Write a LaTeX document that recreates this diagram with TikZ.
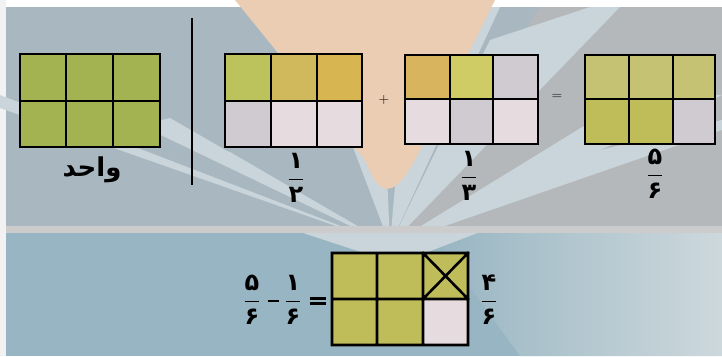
\documentclass[tikz,border=0pt]{standalone}
\usepackage{fontspec}
\newfontfamily\arabicfont[Script=Arabic]{DejaVu Sans}
\TeXXeTstate=1
\definecolor{bgtop}{HTML}{A9B8C0}
\definecolor{bgray}{HTML}{C9D5DA}
\definecolor{peach}{HTML}{EACDB2}
\definecolor{bgbot}{HTML}{97B5C2}
\definecolor{bgbotlight}{HTML}{CDD8DC}
\definecolor{rgray}{HTML}{B5B8BA}
\definecolor{oliveA}{HTML}{A3B352}
\definecolor{oliveB}{HTML}{BFBD5A}
\definecolor{oliveC}{HTML}{C5C273}
\definecolor{ygreen}{HTML}{BCC35C}
\definecolor{ochreA}{HTML}{D7B550}
\definecolor{ochreB}{HTML}{D9B45E}
\definecolor{yelC}{HTML}{CFCC66}
\definecolor{pinkw}{HTML}{E6DCE0}
\definecolor{greyw}{HTML}{CFCBD0}
\newcommand{\pd}{\arabicfont\bfseries}
\newcommand{\pfr}[2]{$\displaystyle\frac{\hbox{\pd #1}}{\hbox{\pd #2}}$}
\newcommand{\thickminus}{\rule{11pt}{2.6pt}}
\newcommand{\thickeq}{\vbox{\hrule width 16pt height 2.4pt\vskip 2.6pt\hrule width 16pt height 2.4pt}}
\tikzset{
  cellline/.style={line width=2.6pt, line cap=rect},
  lab/.style={inner sep=0pt, font=\fontsize{24}{28}\selectfont},
  word/.style={inner sep=0pt, font=\fontsize{26}{30}\selectfont},
  sym/.style={inner sep=0pt, font=\fontsize{14}{16}\selectfont}
}
\begin{document}
\begin{tikzpicture}[x=1pt,y=-1pt]
\useasboundingbox (0,0) rectangle (722,356);
% ---------- background ----------
\fill[bgtop] (0,0) rectangle (722,356);
\fill[rgray] (390,245) -- (540,7) -- (722,7) -- (722,230) -- cycle;
\fill[white] (0,0) rectangle (722,7);
\fill[white!90!gray] (0,0) rectangle (6,356);
% light rays from the bottom centre
\fill[bgray] (390,245) -- (0,95) -- (0,108) -- cycle;
\fill[bgray] (390,245) -- (140,125) -- (170,118) -- cycle;
\fill[bgray] (390,245) -- (190,145) -- (230,152) -- cycle;
\fill[bgray] (390,245) -- (300,7) -- (380,7) -- cycle;
\fill[bgray] (390,245) -- (410,7) -- (500,7) -- cycle;
\fill[bgray] (390,245) -- (490,40) -- (590,7) -- (620,7) -- cycle;
\fill[bgray] (390,245) -- (560,160) -- (722,120) -- (722,130) -- cycle;
\fill[bgray] (390,245) -- (610,110) -- (690,95) -- (722,95) -- cycle;
% peach fan
\fill[peach] (235,0) -- (495,0) -- (420,150) .. controls (395,200) and (380,200) .. (365,160) -- cycle;
% lower band
\fill[bgbot] (6,232) rectangle (722,356);
\shade[left color=bgbot, right color=bgbotlight] (430,232) -- (722,232) -- (722,356) -- (520,356) -- cycle;
\fill[bgray] (300,232) -- (480,232) -- (420,255) -- (370,255) -- cycle;
\fill[gray!40] (6,226) rectangle (722,233);
% separator
\draw[line width=2pt] (192,18) coordinate (sepA) -- (192,185) coordinate (sepB);
% ---------- grid 1 : one whole ----------
\fill[oliveA] (20,54) rectangle (160,147);
\draw[cellline] (20,54) rectangle (160,147) (66,54) -- (66,147) (113,54) -- (113,147) (20,101) -- (160,101);
\node[word] (w) at (92,170) {\pd\beginR واحد\endR};
% ---------- grid 2 : 1/2 ----------
\fill[ygreen] (225,54) rectangle (271,101);
\fill[ochreB!70!ygreen] (271,54) rectangle (317,101);
\fill[ochreA] (317,54) rectangle (362,101);
\fill[pinkw] (225,101) rectangle (362,147);
\fill[greyw] (225,101) rectangle (271,147);
\draw[cellline] (225,54) rectangle (362,147) (271,54) -- (271,147) (317,54) -- (317,147) (225,101) -- (362,101);
\node[lab] (h) at (296,178) {\pfr{۱}{۲}};
\node[sym] (plus) at (384,100) {+};
% ---------- grid 3 : 1/3 ----------
\fill[ochreB] (405,55) rectangle (450,99);
\fill[yelC] (450,55) rectangle (493,99);
\fill[greyw] (493,55) rectangle (538,99);
\fill[pinkw] (405,99) rectangle (538,144);
\fill[greyw] (450,99) rectangle (493,144);
\draw[cellline] (405,55) rectangle (538,144) (450,55) -- (450,144) (493,55) -- (493,144) (405,99) -- (538,99);
\node[lab] (t) at (469,176) {\pfr{۱}{۳}};
\node[sym] (eq) at (557,97) {=};
% ---------- grid 4 : 5/6 ----------
\fill[oliveC] (585,55) rectangle (715,99);
\fill[oliveB] (585,99) rectangle (673,144);
\fill[greyw] (673,99) rectangle (715,144);
\draw[cellline] (585,55) rectangle (715,144) (629,55) -- (629,144) (673,55) -- (673,144) (585,99) -- (715,99);
\node[lab] (f) at (655,174) {\pfr{۵}{۶}};
% ---------- bottom ----------
\fill[oliveB] (332,253) rectangle (468,345);
\fill[pinkw] (423,299) rectangle (468,345);
\draw[cellline] (332,253) rectangle (468,345) (377,253) -- (377,345) (423,253) -- (423,345) (332,299) -- (468,299)
  (423,253) -- (468,299) (468,253) -- (423,299);
\node[lab] (a) at (252,300) {\pfr{۵}{۶}};
\node[sym] (minus) at (273,301) {\thickminus};
\node[lab] (b) at (293,300) {\pfr{۱}{۶}};
\node[sym] (eq2) at (318,301) {\thickeq};
\node[lab] (c) at (489,300) {\pfr{۴}{۶}};
\end{tikzpicture}
\end{document}
